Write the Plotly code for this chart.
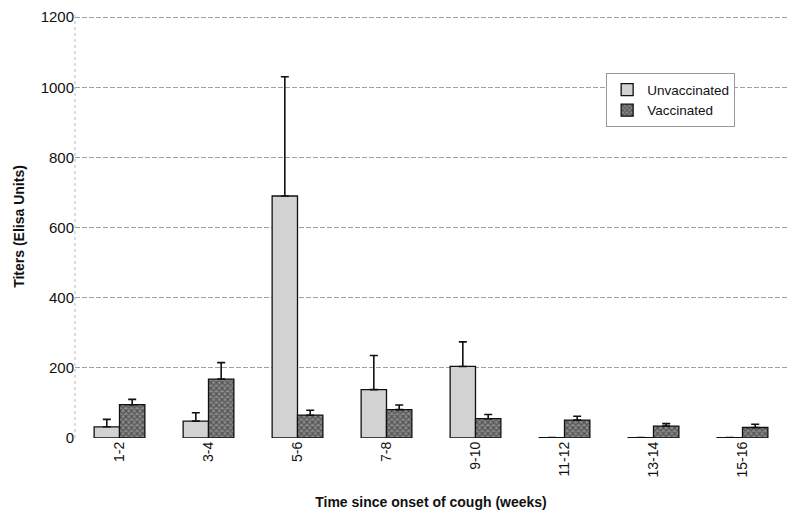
import plotly.graph_objects as go

categories = ["1-2", "3-4", "5-6", "7-8", "9-10", "11-12", "13-14", "15-16"]
unvaccinated = [32, 48, 690, 138, 204, 1, 1, 1]
unvaccinated_err = [21, 24, 340, 97, 70, 0, 0, 0]
vaccinated = [95, 168, 65, 81, 55, 51, 34, 30]
vaccinated_err = [15, 47, 14, 13, 12, 11, 7, 9]
y_ticks = [0, 200, 400, 600, 800, 1000, 1200]

FONT = "Arial, Liberation Sans, sans-serif"

fig = go.Figure()
fig.add_trace(go.Bar(
    name="Unvaccinated", x=categories, y=unvaccinated,
    marker=dict(color="#d2d2d2", line=dict(color="#111", width=1.3)),
    error_y=dict(type="data", array=unvaccinated_err, arrayminus=[0]*8, symmetric=False,
                 color="#111", thickness=1.6, width=4),
))
fig.add_trace(go.Bar(
    name="Vaccinated", x=categories, y=vaccinated,
    marker=dict(color="#6a6a6a", line=dict(color="#111", width=1.3),
                pattern=dict(shape="x", size=4, solidity=0.5, fgcolor="#1a1a1a", bgcolor="#8a8a8a")),
    error_y=dict(type="data", array=vaccinated_err, arrayminus=[0]*8, symmetric=False,
                 color="#111", thickness=1.6, width=4),
))

fig.update_layout(
    width=792, height=510,
    margin=dict(l=67, r=13, t=7, b=80),
    paper_bgcolor="white", plot_bgcolor="white",
    barmode="group", bargap=0.43, bargroupgap=0,
    font=dict(family=FONT, color="#111", size=13),
    legend=dict(x=0.746, y=0.862, xanchor="left", yanchor="top",
                bgcolor="white", bordercolor="#999", borderwidth=1,
                font=dict(size=13.5, family=FONT), itemwidth=30),
    xaxis=dict(
        type="category", automargin=False,
        tickangle=-90, tickfont=dict(size=14),
        title=dict(text="<b>Time since onset of cough (weeks)</b>", font=dict(size=14), standoff=20),
        showline=False, ticks="", showgrid=False,
    ),
    yaxis=dict(
        range=[0, 1206], tickvals=y_ticks, tickfont=dict(size=15), automargin=False,
        ticklabeloverflow="allow",
        title=dict(text="<b>Titers (Elisa Units)</b>", font=dict(size=14), standoff=12),
        showgrid=True, gridcolor="#a0a0a0", griddash="5px,2px", gridwidth=1,
        zeroline=False, showline=False, ticks="", ticklen=0,
    ),
    shapes=[dict(type="line", xref="paper", yref="paper", x0=0, x1=0, y0=0, y1=1,
                 line=dict(color="#bbbbbb", width=1, dash="dot"))],
)

fig.write_html("out.html")
